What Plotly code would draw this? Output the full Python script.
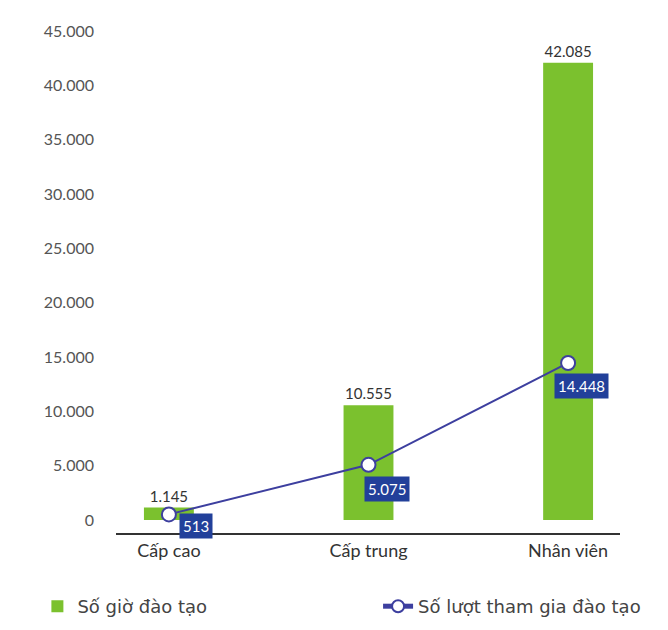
import plotly.graph_objects as go

categories = ["Cấp cao", "Cấp trung", "Nhân viên"]
gio_dao_tao = [1145, 10555, 42085]
luot_tham_gia = [513, 5075, 14448]
y_ticks = [0, 5000, 10000, 15000, 20000, 25000, 30000, 35000, 40000, 45000]

GREEN = "#7bc12e"
LINE = "#3d3f9f"
BOX = "#22409a"
FONT = "Lato, Open Sans, sans-serif"
LEGEND_FONT = "DejaVu Sans, sans-serif"

fig = go.Figure()
fig.add_trace(go.Bar(
    x=categories, y=gio_dao_tao, name="Số giờ đào tạo",
    marker=dict(color=GREEN, line=dict(width=0)), width=0.25,
    text=gio_dao_tao, texttemplate="%{y:,}", textposition="outside",
    textfont=dict(color="#333333", size=15, family=FONT), cliponaxis=False,
    legend="legend",
))
fig.add_trace(go.Scatter(
    x=categories, y=luot_tham_gia, name="Số lượt tham gia đào tạo",
    mode="lines+markers",
    line=dict(color=LINE, width=2),
    marker=dict(size=14, color="white", line=dict(color=LINE, width=2)),
    cliponaxis=False,
    legend="legend2",
))

shifts = [(27, -12), (18, -24), (13, -23)]
for cat, val, (dx, dy) in zip(categories, luot_tham_gia, shifts):
    fig.add_annotation(
        x=cat, y=val, text=f"{val:,}".replace(",", "."), showarrow=False,
        xshift=dx, yshift=dy, bgcolor=BOX, borderpad=3,
        font=dict(color="white", size=15, family=FONT),
    )

leg_common = dict(
    orientation="h", xref="container", yref="container",
    yanchor="middle", xanchor="left",
    font=dict(size=18, color="#444444", family=LEGEND_FONT),
    itemsizing="constant", bgcolor="rgba(0,0,0,0)",
)

fig.update_layout(
    width=668, height=630,
    margin=dict(l=108, r=56, t=23, b=105, autoexpand=False),
    paper_bgcolor="white", plot_bgcolor="white",
    separators=",.",
    font=dict(family=FONT, size=15, color="#444444"),
    showlegend=True,
    legend=dict(x=0.044, y=0.05, **leg_common),
    legend2=dict(x=0.554, y=0.05, **leg_common),
)
fig.update_xaxes(
    range=[-0.265, 2.26], showline=True, linecolor="#333333", linewidth=2,
    showgrid=False, ticks="", tickfont=dict(size=18, color="#333333"),
    zeroline=False,
)
fig.update_yaxes(
    range=[-1200, 45000], showgrid=False, zeroline=False, showline=False,
    tickvals=y_ticks, tickformat=",d", ticklabelstandoff=21,
    tickfont=dict(size=16, color="#555555"),
)

fig.write_html("out.html")
